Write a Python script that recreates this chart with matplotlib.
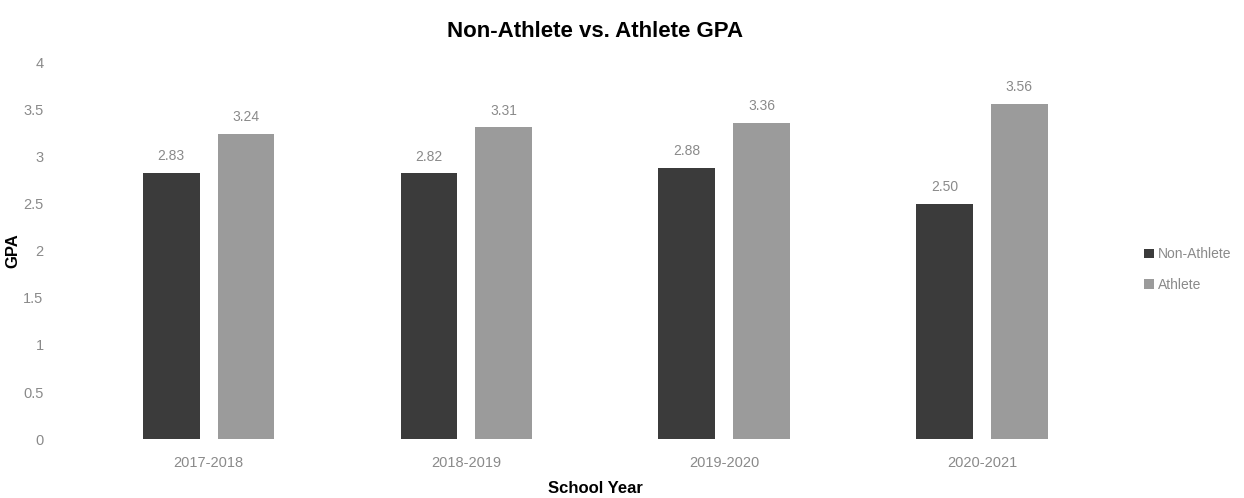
import matplotlib.pyplot as plt
import numpy as np

years = ['2017-2018', '2018-2019', '2019-2020', '2020-2021']
non_athlete = [2.83, 2.82, 2.88, 2.50]
athlete = [3.24, 3.31, 3.36, 3.56]

plt.rcParams['font.family'] = ['Liberation Sans', 'DejaVu Sans']

fig = plt.figure(figsize=(12.44, 4.98), dpi=100)
ax = fig.add_axes([0.064, 0.118, 0.829, 0.757])

x = np.arange(len(years))
w = 0.22
off = 0.145
b1 = ax.bar(x - off, non_athlete, w, color='#3b3b3b', label='Non-Athlete')
b2 = ax.bar(x + off, athlete, w, color='#9b9b9b', label='Athlete')

# value labels above bars
for bars in (b1, b2):
    for rect in bars:
        h = rect.get_height()
        ax.annotate(f'{h:.2f}', (rect.get_x() + rect.get_width() / 2, h),
                    xytext=(0, 7), textcoords='offset points',
                    ha='center', va='bottom', fontsize=10, color='#8a8a8a')

ax.set_xlim(-0.5, 3.5)
ax.set_ylim(0, 4)
ax.set_yticks(np.arange(0, 4.01, 0.5))
ax.set_yticklabels(['0', '0.5', '1', '1.5', '2', '2.5', '3', '3.5', '4'])
ax.set_xticks(x)
ax.set_xticklabels(years)
ax.tick_params(length=0, colors='#8a8a8a', labelsize=10.5)
ax.tick_params(axis='y', pad=26)
ax.tick_params(axis='x', pad=12)
for s in ax.spines.values():
    s.set_visible(False)

ax.set_title('Non-Athlete vs. Athlete GPA', fontsize=16, fontweight='bold', pad=18)
ax.set_xlabel('School Year', fontsize=12, fontweight='bold', labelpad=8)
ax.set_ylabel('GPA', fontsize=12, fontweight='bold', labelpad=2)

ax.legend(loc='center left', bbox_to_anchor=(1.02, 0.45), frameon=False,
          fontsize=10, labelcolor='#8a8a8a', handlelength=0.7, handleheight=0.7,
          handletextpad=0.3, labelspacing=1.2)

fig.savefig('out.png', dpi=100)
